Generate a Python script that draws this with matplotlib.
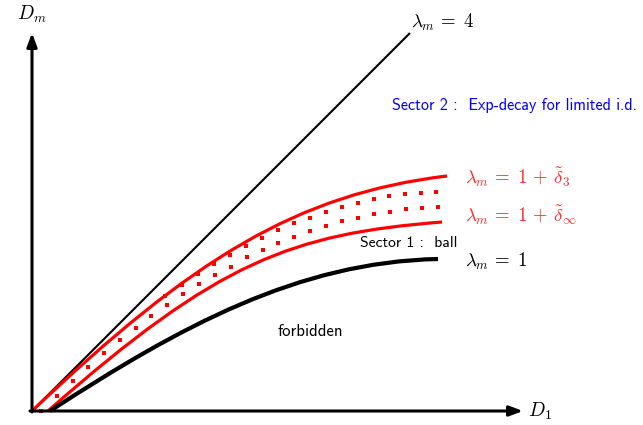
import matplotlib
matplotlib.use("Agg")
import matplotlib.pyplot as plt
from matplotlib.path import Path
from matplotlib.patches import PathPatch

plt.rcParams['mathtext.fontset'] = 'cm'

# Curve definitions (cubic Bezier control points, schematic data units)
line_l4 = [(0, 0), (378, 378)]
upper_red = [(0, 0), (160, 152), (265, 217), (415, 235)]      # lambda_m = 1 + delta_3
lower_red = [(16, 0), (186, 150), (260, 177), (410, 189)]     # lambda_m = 1 + delta_inf
black_l1 = [(18, 0), (148, 84.5), (266, 149), (406, 152)]     # lambda_m = 1

dots_lower_x = [9, 25, 41, 56, 72, 88, 104, 119, 135, 151, 167, 183, 199, 215,
                231, 246, 262, 278, 294, 310, 326, 342, 358, 374, 390, 406]
dots_lower_y = [0, 15, 30, 44, 58, 71, 83, 95, 106, 117, 127, 136, 144, 154,
                161, 168, 174, 180, 185, 190, 193, 197, 199, 202, 203, 204]
dots_upper_x = [133, 150, 166, 182, 198, 214, 230, 246, 262, 278, 294, 310,
                326, 342, 357, 373, 389, 404]
dots_upper_y = [115, 126, 137, 147, 156, 165, 173, 181, 188, 193, 199, 204,
                208, 212, 215, 217, 218, 219]

x_axis_end = 491
y_axis_end = 378

fig = plt.figure(figsize=(6.43, 4.25), dpi=100)
ax = fig.add_axes([0, 0, 1, 1])
ax.set_xlim(-32, 611)
ax.set_ylim(-14, 411)
ax.axis('off')


def bezier(pts, color, lw):
    codes = [Path.MOVETO, Path.CURVE4, Path.CURVE4, Path.CURVE4]
    p = PathPatch(Path(pts, codes), facecolor='none', edgecolor=color,
                  lw=lw, capstyle='butt', zorder=3)
    ax.add_patch(p)


# axes arrows
arrow_kw = dict(arrowstyle='-|>,head_length=0.8,head_width=0.3', color='black',
                lw=2.2, shrinkA=0, shrinkB=0)
ax.annotate('', xy=(x_axis_end, 0), xytext=(-2, 0), arrowprops=arrow_kw, zorder=4)
ax.annotate('', xy=(0, y_axis_end), xytext=(0, -1), arrowprops=arrow_kw, zorder=4)

# lambda = 4 line
ax.plot([p[0] for p in line_l4], [p[1] for p in line_l4], color='black', lw=1.5,
        solid_capstyle='butt', zorder=3)

bezier(upper_red, 'red', 2.3)
bezier(lower_red, 'red', 2.3)
bezier(black_l1, 'black', 3.0)

ax.plot(dots_lower_x, dots_lower_y, 's', color='red', ms=2.3, mew=0, zorder=3)
ax.plot(dots_upper_x, dots_upper_y, 's', color='red', ms=2.3, mew=0, zorder=3)

# labels
ax.text(0, 397, r'$D_m$', fontsize=14, ha='center', va='center')
ax.text(496, 0, r'$D_1$', fontsize=14, ha='left', va='center')
ax.text(379, 389, r'$\lambda_m\, =\; 4$', fontsize=13.5, ha='left', va='center')
ax.text(433, 234, r'$\lambda_m\, =\; 1 \,+\, \tilde{\delta}_3$', fontsize=13.5,
        ha='left', va='center', color='#ff2a2a')
ax.text(433, 196, r'$\lambda_m\, =\; 1 \,+\, \tilde{\delta}_\infty$', fontsize=13.5,
        ha='left', va='center', color='#ff2a2a')
ax.text(433, 150, r'$\lambda_m\, =\; 1$', fontsize=13.5, ha='left', va='center')

ax.text(360, 306, 'Sector 2 :  Exp-decay for limited i.d.', fontfamily='cmss10',
        fontsize=11.6, ha='left', va='center', color='#0000ff')
ax.text(328, 168, 'Sector 1 :  ball', fontfamily='cmss10', fontsize=11.3,
        ha='left', va='center', color='black')
ax.text(246, 80, 'forbidden', fontfamily='cmss10', fontsize=12,
        ha='left', va='center', color='black')

fig.savefig('out.png', dpi=100)
